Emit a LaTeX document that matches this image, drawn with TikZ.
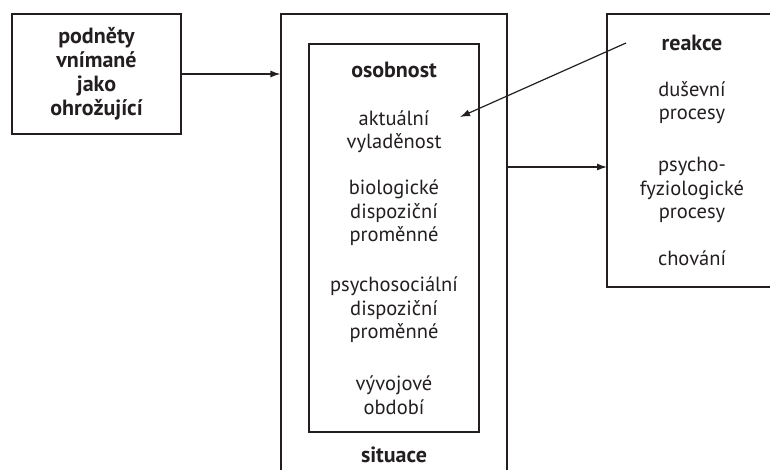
\documentclass[tikz,border=0pt]{standalone}
\usepackage{fontspec}
\setmainfont{PT Sans}
\usepackage{tikz}
\usetikzlibrary{arrows.meta,positioning}
\definecolor{inkblack}{RGB}{35,31,32}
\tikzset{
  framebox/.style={rectangle, draw=inkblack, line width=1.2pt, inner sep=0pt},
  txt/.style={font=\fontsize{20.5}{23.5}\selectfont, text=inkblack,
              align=center, inner sep=0pt},
  ttl/.style={txt, font=\fontsize{22}{24}\selectfont\bfseries},
  link/.style={-{Latex[length=10pt,width=7pt]}, line width=1.2pt, draw=inkblack},
}

\begin{document}
\begin{tikzpicture}[x=1pt,y=-1pt]
  \useasboundingbox (0,0) rectangle (770,470);
  % Stimuli
  \node[framebox, ttl, minimum width=169pt, minimum height=120pt] (podnety) at (96.5,74)
    {podněty\\vnímané\\jako\\ohrožující};
  % Situation and personality
  \node[framebox, minimum width=226pt, minimum height=476pt] (situace) at (394,252) {};
  \node[framebox, minimum width=170pt, minimum height=388pt] (osobnost) at (394,238) {};
  \node[ttl] (osobnosttitle) at (394,70) {osobnost};
  \node[txt] (aktualni) at (394,131.5) {aktuální\\vyladěnost};
  \node[txt] (biologicke) at (394,213) {biologické\\dispoziční\\proměnné};
  \node[txt] (psychosoc) at (394,310) {psychosociální\\dispoziční\\proměnné};
  \node[txt] (vyvojove) at (394,395) {vývojové\\období};
  \node[ttl] (situacetitle) at (394,455) {situace};
  % Reactions
  \node[framebox, minimum width=170pt, minimum height=273pt] (reakce) at (692,150.5) {};
  \node[ttl] (reakcetitle) at (692,43) {reakce};
  \node[txt] (dusevni) at (692,102.5) {duševní\\procesy};
  \node[txt] (psychofyz) at (692,190) {psycho-\\fyziologické\\procesy};
  \node[txt] (chovani) at (692,258) {chování};
  % Arrows
  \coordinate (reakcevstup) at (607,167);
  \coordinate (zpetna) at (626,43);
  \coordinate (naladeni) at (460,117);
  \draw[link] (podnety.east) -- (podnety.east -| situace.west);
  \draw[link] (situace.east |- reakcevstup) -- (reakcevstup);
  \draw[link] (zpetna) -- (naladeni);
\end{tikzpicture}
\end{document}
